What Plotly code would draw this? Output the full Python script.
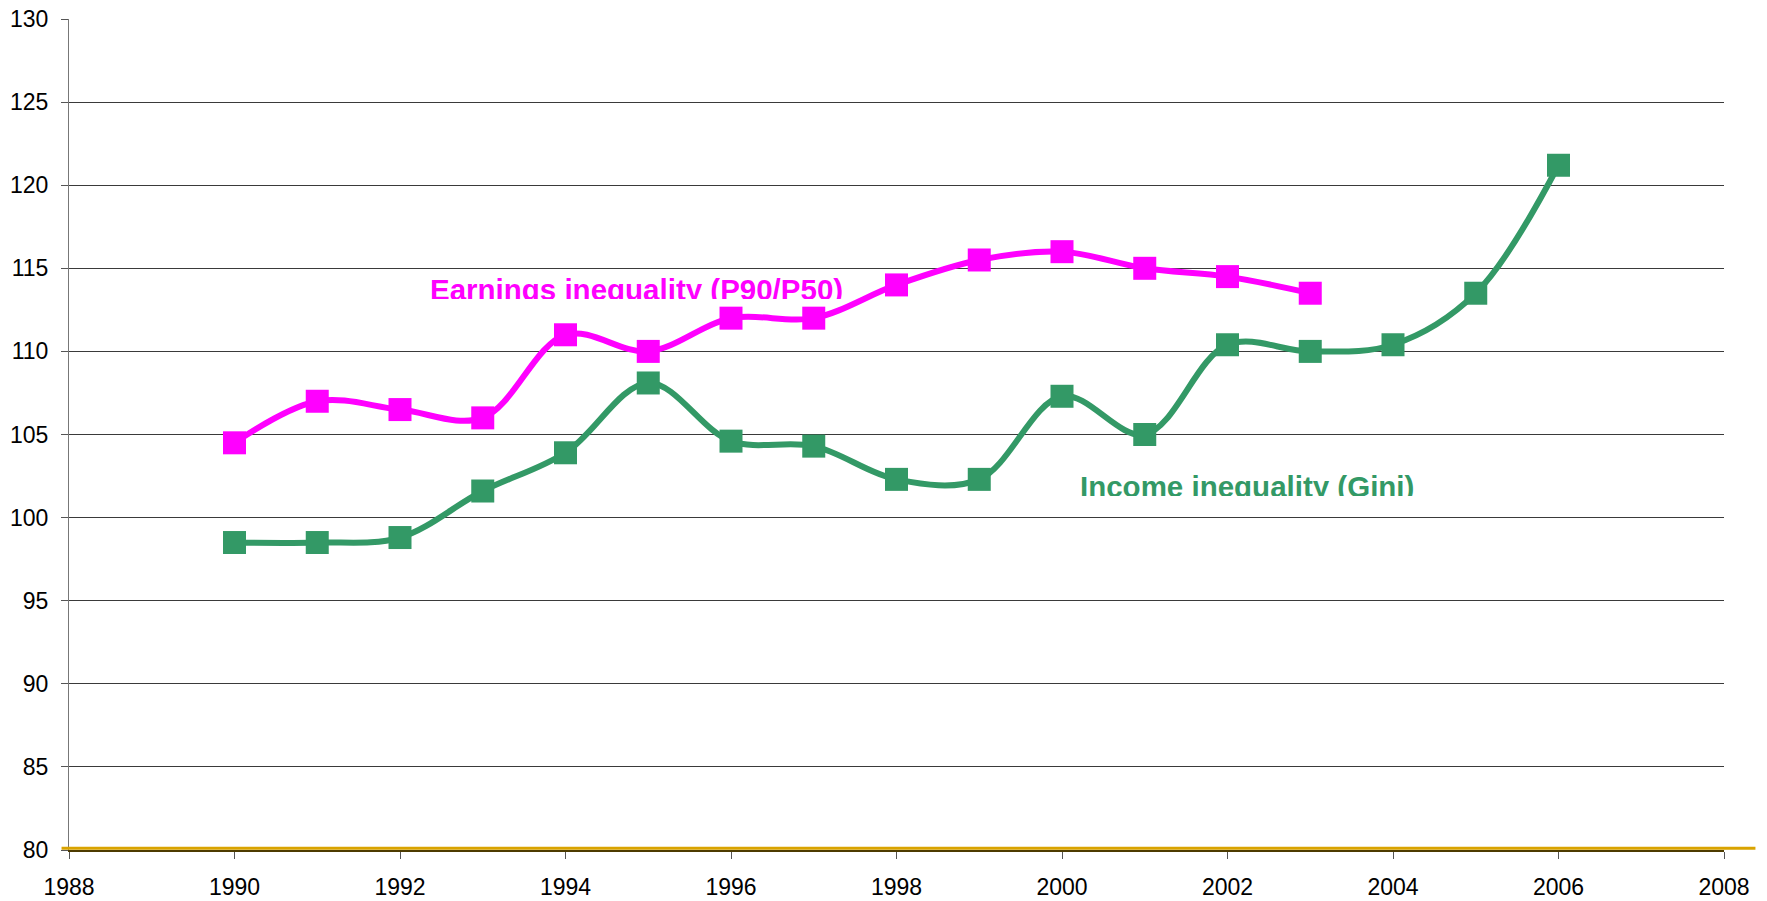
import plotly.graph_objects as go

earn_years = list(range(1990, 2004))
earnings = [104.5, 107.0, 106.5, 106.0, 111.0, 110.0, 112.0, 112.0, 114.0, 115.5, 116.0, 115.0, 114.5, 113.5]
inc_years = list(range(1990, 2007))
income = [98.5, 98.5, 98.8, 101.6, 103.9, 108.1, 104.6, 104.3, 102.3, 102.3, 107.3, 105.0, 110.4, 110.0, 110.4, 113.5, 121.2]

x_ticks = list(range(1988, 2009, 2))
y_ticks = list(range(80, 131, 5))

PINK = "#FF00FF"
GREEN = "#339966"
FONT = "Arial, Liberation Sans, sans-serif"

fig = go.Figure()
fig.add_trace(go.Scatter(x=earn_years, y=earnings, mode="lines+markers",
                         line=dict(color=PINK, width=6, shape="spline", smoothing=1.0),
                         marker=dict(symbol="square", size=23, color=PINK),
                         showlegend=False, hoverinfo="x+y"))
fig.add_trace(go.Scatter(x=inc_years, y=income, mode="lines+markers",
                         line=dict(color=GREEN, width=6, shape="spline", smoothing=1.0),
                         marker=dict(symbol="square", size=23, color=GREEN),
                         showlegend=False, hoverinfo="x+y"))

fig.add_annotation(x=1992.35, y=114.75, xref="x", yref="y", xanchor="left", yanchor="top",
                   text="<b>Earnings inequality (P90/P50)</b>", showarrow=False,
                   font=dict(family=FONT, size=29.5, color=PINK), height=26, valign="top",
                   borderpad=0)
fig.add_annotation(x=2000.2, y=102.9, xref="x", yref="y", xanchor="left", yanchor="top",
                   text="<b>Income inequality (Gini)</b>", showarrow=False,
                   font=dict(family=FONT, size=29.5, color=GREEN), height=26, valign="top",
                   borderpad=0)

# gold baseline
fig.add_shape(type="line", xref="paper", yref="y", x0=-0.0045, x1=1.019, y0=80.1, y1=80.1,
              line=dict(color="#D9A300", width=3), layer="above")

fig.update_layout(
    width=1767, height=901,
    margin=dict(l=69, r=43, t=19, b=51, autoexpand=False),
    plot_bgcolor="white", paper_bgcolor="white",
    font=dict(family=FONT, size=23, color="black"),
    xaxis=dict(range=[1988, 2008], tickvals=x_ticks, ticktext=[str(v) for v in x_ticks],
               showgrid=False, zeroline=False, showline=True, linecolor="#4d3b00", linewidth=2,
               ticks="outside", ticklen=7, tickcolor="#555555", tickwidth=1,
               tickfont=dict(size=23), ticklabelstandoff=8, automargin=False),
    yaxis=dict(range=[80, 130], tickvals=y_ticks, showgrid=True, gridcolor="#3a3a3a", gridwidth=1,
               zeroline=False, showline=True, linecolor="#777777", linewidth=1,
               ticks="outside", ticklen=7, tickcolor="#555555", tickwidth=1,
               tickfont=dict(size=23), ticklabelstandoff=8, automargin=False),
)

fig.write_html("out.html", config={"displayModeBar": False},
               post_script="document.body.style.margin='0';document.body.style.overflow='hidden';")
